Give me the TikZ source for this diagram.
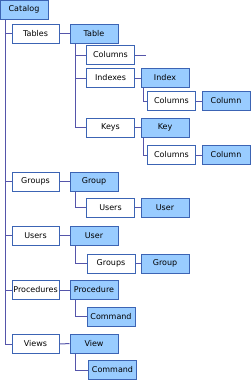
\documentclass[tikz,border=0pt]{standalone}
\usepackage{fontspec}
\setmainfont{DejaVu Sans}
\definecolor{boxfill}{HTML}{99CCFF}
\definecolor{boxdraw}{HTML}{3C64B4}
\definecolor{linkcol}{HTML}{5555AA}
\begin{document}
\begin{tikzpicture}[x=1pt,y=-1pt,
  base/.style={draw=boxdraw,line width=1pt,minimum width=48pt,minimum height=19pt,inner sep=0pt,font=\fontsize{8}{9}\selectfont},
  coll/.style={base,fill=white},
  obj/.style={base,fill=boxfill},
  link/.style={draw=linkcol,line width=1pt}]
\useasboundingbox (0,0) rectangle (251,380);
\node[obj]  (catalog)    at (24,9.5)     {Catalog};
\node[coll, minimum width=47pt] (tables) at (35.5,33.5) {Tables};
\node[obj]  (table)      at (94,33.5)    {Table};
\node[coll] (columns1)   at (110.5,55)   {Columns};
\node[coll] (indexes)    at (110.5,78)   {Indexes};
\node[obj]  (index)      at (165,78)     {Index};
\node[coll] (columns2)   at (171.5,101)  {Columns};
\node[obj]  (column2)    at (226,101)    {Column};
\node[coll] (keys)       at (110.5,127.5){Keys};
\node[obj]  (key)        at (165,127.5)  {Key};
\node[coll] (columns3)   at (171.5,155)  {Columns};
\node[obj]  (column3)    at (226,155)    {Column};
\node[coll, minimum width=47pt] (groups) at (35.5,181.5) {Groups};
\node[obj]  (group)      at (94,181.5)   {Group};
\node[coll] (users2)     at (110.5,207.5){Users};
\node[obj]  (user2)      at (165,207.5)  {User};
\node[coll, minimum width=47pt] (users) at (35.5,235.5) {Users};
\node[obj]  (user)       at (94,235.5)   {User};
\node[coll] (groups2)    at (111,263.5)  {Groups};
\node[obj]  (group2)     at (165,263.5)  {Group};
\node[coll, minimum width=47pt] (procedures) at (35.5,290) {Procedures};
\node[obj]  (procedure)  at (94,290)     {Procedure};
\node[obj]  (command1)   at (111,316.5)  {Command};
\node[coll, minimum width=47pt] (views) at (35.5,344) {Views};
\node[obj]  (view)       at (94,343.5)   {View};
\node[obj]  (command2)   at (112.5,370)  {Command};
\coordinate (c1end) at (146,55);
% catalog trunk
\draw[link] ([xshift=6pt]catalog.south west) |- (views.west);
\foreach \n in {tables,groups,users,procedures}
  \draw[link] ([xshift=6pt]catalog.south west |- \n.west) -- (\n.west);
% horizontal links
\draw[link] (tables) -- (table);
\draw[link] (columns1.east) -- (c1end);
\draw[link] (indexes) -- (index);
\draw[link] (columns2) -- (column2);
\draw[link] (keys) -- (key);
\draw[link] (columns3) -- (column3);
\draw[link] (groups) -- (group);
\draw[link] (users2) -- (user2);
\draw[link] (users) -- (user);
\draw[link] (groups2) -- (group2);
\draw[link] (procedures) -- (procedure);
\draw[link] (views) -- (view);
% table branches
\draw[link] ([xshift=6pt]table.south west) |- (keys.west);
\draw[link] ([xshift=6pt]table.south west |- columns1.west) -- (columns1.west);
\draw[link] ([xshift=6pt]table.south west |- indexes.west) -- (indexes.west);
\draw[link] ([xshift=3pt]index.south west) |- (columns2.west);
\draw[link] ([xshift=3pt]key.south west) |- (columns3.west);
\draw[link] ([xshift=6pt]group.south west) |- (users2.west);
\draw[link] ([xshift=6pt]user.south west) |- (groups2.west);
\draw[link] ([xshift=6pt]procedure.south west) |- (command1.west);
\draw[link] ([xshift=6pt]view.south west) |- (command2.west);
\end{tikzpicture}
\end{document}
